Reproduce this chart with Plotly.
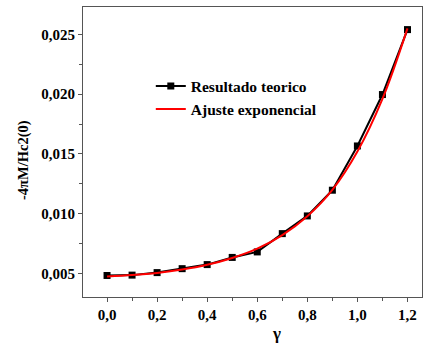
import plotly.graph_objects as go

# Reduced field values
gamma = [0.0, 0.1, 0.2, 0.3, 0.4, 0.5, 0.6, 0.7, 0.8, 0.9, 1.0, 1.1, 1.2]
teorico = [0.00484, 0.00487, 0.00508, 0.00541, 0.00575, 0.00635, 0.00681,
           0.00834, 0.00982, 0.01197, 0.01567, 0.01997, 0.02540]
ajuste = [0.00475, 0.00487, 0.00505, 0.00533, 0.00573, 0.00630, 0.00708,
          0.00822, 0.00980, 0.01200, 0.01520, 0.01960, 0.02550]

x_ticks = [0.0, 0.2, 0.4, 0.6, 0.8, 1.0, 1.2]
y_ticks = [0.005, 0.010, 0.015, 0.020, 0.025]

font_family = "Liberation Serif"
axis_color = "#555555"

fig = go.Figure()
fig.add_trace(go.Scatter(
    x=gamma, y=teorico, mode="lines+markers", name="<b>Resultado teorico</b>",
    line=dict(color="black", width=2),
    marker=dict(symbol="square", size=7, color="black"),
))
fig.add_trace(go.Scatter(
    x=gamma, y=ajuste, mode="lines", name="<b>Ajuste exponencial</b>",
    line=dict(color="#ff0000", width=2, shape="spline", smoothing=1.0),
))

axis_common = dict(
    showline=True, linecolor=axis_color, linewidth=1, mirror=True,
    ticks="outside", ticklen=4, tickcolor=axis_color, tickwidth=1,
    showgrid=False, zeroline=False,
    tickfont=dict(family=font_family, size=15, color="black", weight="bold"),
)

fig.update_xaxes(
    range=[-0.096, 1.258], tickvals=x_ticks, tickformat=".1f",
    minor=dict(ticks="outside", ticklen=3, dtick=0.1, tick0=0, tickcolor=axis_color),
    **axis_common,
)
fig.update_yaxes(
    range=[0.00304, 0.02729], tickvals=y_ticks, tickformat=".3f",
    minor=dict(ticks="outside", ticklen=3, dtick=0.0025, tick0=0, tickcolor=axis_color),
    **axis_common,
)

fig.update_layout(
    width=423, height=343,
    margin=dict(l=83, r=1, t=7, b=46),
    paper_bgcolor="white", plot_bgcolor="white",
    separators=", ",
    showlegend=True,
    legend=dict(
        x=0.20, y=0.785, xanchor="left", yanchor="top",
        bgcolor="rgba(0,0,0,0)", tracegroupgap=0,
        font=dict(family=font_family, size=15.5, color="black"),
    ),
)
fig.add_annotation(
    text="<b>γ</b>", x=(276 - 83) / 339, y=-0.125, xref="paper", yref="paper",
    xanchor="center", yanchor="middle",
    showarrow=False, font=dict(family=font_family, size=17, color="black"),
)
fig.add_annotation(
    text="<b>-4πM/Hc2(0)</b>", x=(23 - 83) / 339, y=(297 - 160) / 290,
    xref="paper", yref="paper", textangle=-90,
    xanchor="center", yanchor="middle",
    showarrow=False, font=dict(family=font_family, size=14.5, color="black"),
)

fig.write_html("out.html")
